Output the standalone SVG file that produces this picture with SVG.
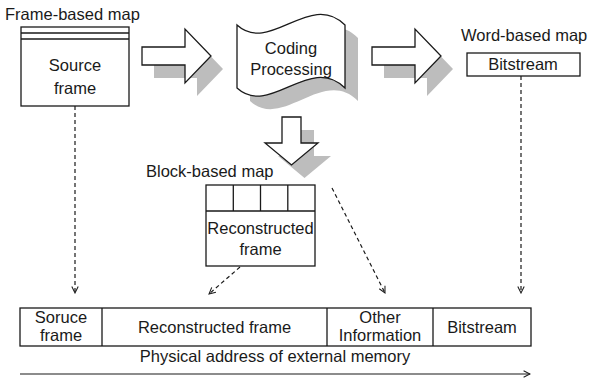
<svg xmlns="http://www.w3.org/2000/svg" xmlns:xlink="http://www.w3.org/1999/xlink" width="590" height="379" viewBox="0 0 590 379">
  <style>
    text { font-family: "Liberation Sans", Arial, sans-serif; font-size: 16.5px; fill: #1a1a1a; }
    .mid { text-anchor: middle; }
    .box { fill: #fff; stroke: #1a1a1a; stroke-width: 1.3; }
    .shade { fill: #bdbdbd; stroke: none; }
    .dash { fill: none; stroke: #1a1a1a; stroke-width: 1.2; stroke-dasharray: 4 3; marker-end: url(#open); }
    .solid { fill: none; stroke: #1a1a1a; stroke-width: 1.2; marker-end: url(#open); }
  </style>
  <defs>
    <marker id="open" viewBox="0 0 10 10" refX="9" refY="5" markerWidth="8" markerHeight="8" orient="auto" markerUnits="userSpaceOnUse">
      <path d="M1,1 L9,5 L1,9" fill="none" stroke="#1a1a1a" stroke-width="1.3"/>
    </marker>
    <path id="rightArrow" d="M0,0 L43,0 L43,-18 L69,9 L43,36 L43,18 L0,18 Z"/>
    <path id="downArrow" d="M0,0 L19,0 L19,26 L36,26 L9.5,48 L-17,26 L0,26 Z"/>
    <path id="wave" d="M237,25 C270,55 310,-10 345,25 L345,88 C310,53 270,118 237,88 Z"/>
  </defs>

  <!-- source frame, frame-based map -->
  <g id="source-frame">
    <text x="5" y="20">Frame-based map</text>
    <rect class="box" x="21" y="27" width="108" height="79"/>
    <line x1="21" y1="33" x2="129" y2="33" stroke="#1a1a1a" stroke-width="1.3"/>
    <line x1="21" y1="39" x2="129" y2="39" stroke="#1a1a1a" stroke-width="1.3"/>
    <text class="mid" x="75" y="71">Source</text>
    <text class="mid" x="75" y="94">frame</text>
  </g>

  <!-- transfer arrow into coding -->
  <g id="arrow-in">
    <use href="#rightArrow" class="shade" x="154" y="60"/>
    <use href="#rightArrow" class="box" x="142" y="47"/>
  </g>

  <!-- coding processing -->
  <g id="coding">
    <use href="#wave" class="shade" x="13" y="13"/>
    <use href="#wave" class="box"/>
    <text class="mid" x="291" y="54">Coding</text>
    <text class="mid" x="291" y="75">Processing</text>
  </g>

  <!-- transfer arrow out of coding -->
  <g id="arrow-out">
    <use href="#rightArrow" class="shade" x="384" y="60"/>
    <use href="#rightArrow" class="box" x="372" y="47"/>
  </g>

  <!-- bitstream, word-based map -->
  <g id="bitstream">
    <text x="461" y="41">Word-based map</text>
    <rect class="box" x="467" y="53" width="113" height="23"/>
    <text class="mid" x="523" y="70">Bitstream</text>
  </g>

  <!-- arrow down to reconstructed frame -->
  <g id="arrow-down">
    <use href="#downArrow" class="shade" x="295" y="130"/>
    <use href="#downArrow" class="box" x="282" y="117"/>
  </g>

  <!-- reconstructed frame, block-based map -->
  <g id="reconstructed">
    <text x="146" y="177">Block-based map</text>
    <rect class="box" x="206" y="185" width="109" height="81"/>
    <path d="M206,211 H315 M233.3,185 V211 M260.5,185 V211 M287.8,185 V211" fill="none" stroke="#1a1a1a" stroke-width="1.3"/>
    <text class="mid" x="260.5" y="234">Reconstructed</text>
    <text class="mid" x="260.5" y="255">frame</text>
  </g>

  <!-- external memory layout -->
  <g id="memory">
    <rect class="box" x="20" y="308" width="511" height="38"/>
    <path d="M102,308 V346 M327,308 V346 M433,308 V346" fill="none" stroke="#1a1a1a" stroke-width="1.3"/>
    <text class="mid" x="61" y="323">Soruce</text>
    <text class="mid" x="61" y="341">frame</text>
    <text class="mid" x="214.5" y="333">Reconstructed frame</text>
    <text class="mid" x="380" y="323">Other</text>
    <text class="mid" x="380" y="341">Information</text>
    <text class="mid" x="482" y="333">Bitstream</text>
    <text class="mid" x="275" y="362">Physical address of external memory</text>
  </g>

  <!-- connectors -->
  <g id="connectors">
    <line class="dash" x1="75" y1="106" x2="75" y2="293"/>
    <line class="dash" x1="240" y1="267" x2="209" y2="294"/>
    <line class="dash" x1="332" y1="188" x2="385" y2="293"/>
    <line class="dash" x1="521" y1="76" x2="521" y2="293"/>
    <line class="solid" x1="20" y1="374" x2="530" y2="374"/>
  </g>
</svg>
